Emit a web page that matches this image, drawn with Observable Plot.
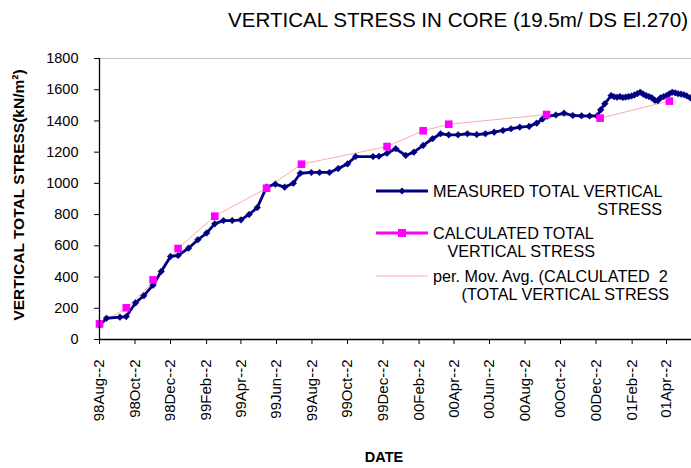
<!DOCTYPE html>
<html>
<head>
<meta charset="utf-8">
<script src="https://cdn.jsdelivr.net/npm/d3@7"></script>
<script src="https://cdn.jsdelivr.net/npm/@observablehq/plot@0.6"></script>
<style>
  body { margin: 0; background: #fff; }
  #chart svg { display: block; font-family: "Liberation Sans", Arial, sans-serif; }
</style>
</head>
<body>
<div id="chart"></div>
<script>
// ---- data ----
const measuredDates = [
  "1998-08-02","1998-08-14","1998-09-06","1998-09-17","1998-10-03","1998-10-17","1998-11-02","1998-11-16",
  "1998-12-02","1998-12-15","1999-01-02","1999-01-18","1999-02-02","1999-02-16","1999-03-03","1999-03-18",
  "1999-04-02","1999-04-16","1999-04-30","1999-05-16","1999-05-31","1999-06-16","1999-07-01","1999-07-13",
  "1999-08-01","1999-08-15","1999-09-01","1999-09-16","1999-10-02","1999-10-16","1999-11-15","1999-11-25",
  "1999-12-09","1999-12-24","2000-01-10","2000-01-24","2000-02-09","2000-02-25","2000-03-10","2000-03-24",
  "2000-04-09","2000-04-25","2000-05-11","2000-05-26","2000-06-10","2000-06-25","2000-07-09","2000-07-24",
  "2000-08-09","2000-08-22","2000-09-01","2000-09-09","2000-09-24","2000-10-08","2000-10-23","2000-11-07",
  "2000-11-21","2000-12-04","2000-12-10","2000-12-17","2000-12-28",
  "2001-01-02","2001-01-07","2001-01-12","2001-01-17","2001-01-22","2001-01-27","2001-02-01","2001-02-06",
  "2001-02-11","2001-02-16","2001-02-21","2001-02-26","2001-03-03","2001-03-08","2001-03-13","2001-03-18",
  "2001-03-23","2001-03-28","2001-04-02","2001-04-07","2001-04-12","2001-04-17","2001-04-22","2001-04-27",
  "2001-05-02","2001-05-07","2001-05-13"
];
const measuredValues = [
  90,136,143,147,235,280,348,436,532,538,585,639,682,741,762,762,
  766,801,845,976,995,976,1001,1065,1070,1070,1070,1095,1125,1172,1172,1174,
  1193,1222,1179,1200,1243,1286,1318,1311,1311,1318,1313,1318,1328,1339,1350,1360,
  1365,1386,1412,1430,1438,1450,1435,1433,1432,1432,1471,1510,1563,
  1555,1552,1556,1550,1553,1556,1560,1566,1575,1584,1572,1562,1556,1548,1532,1530,
  1548,1556,1562,1574,1584,1580,1574,1572,1568,1560,1548
];
const calculatedDates = [
  "1998-08-02","1998-09-17","1998-11-02","1998-12-15","1999-02-16","1999-05-16","1999-07-15",
  "1999-12-09","2000-02-09","2000-03-24","2000-09-08","2000-12-09","2001-04-07"
];
const calculatedValues = [100,203,382,583,790,969,1123,1236,1337,1379,1441,1418,1527];
const trendDates = calculatedDates;
const trendValues = [100,200,370,583,790,969,1123,1236,1337,1379,1441,1418,1527];

const tickDates = [
  "1998-08-02","1998-10-02","1998-12-02","1999-02-02","1999-04-02","1999-06-02","1999-08-02","1999-10-02",
  "1999-12-02","2000-02-02","2000-04-02","2000-06-02","2000-08-02","2000-10-02","2000-12-02","2001-02-02","2001-04-02"
];
const tickLabels = [
  "98Aug--2","98Oct--2","98Dec--2","99Feb--2","99Apr--2","99Jun--2","99Aug--2","99Oct--2",
  "99Dec--2","00Feb--2","00Apr--2","00Jun--2","00Aug--2","00Oct--2","00Dec--2","01Feb--2","01Apr--2"
];
const yTicks = [0,200,400,600,800,1000,1200,1400,1600,1800];

const titleText = "VERTICAL STRESS IN CORE (19.5m/ DS El.270)";
const yLabel = "VERTICAL TOTAL STRESS(kN/m²)";
const xLabel = "DATE";
const legendItems = [
  ["MEASURED TOTAL VERTICAL", "STRESS"],
  ["CALCULATED TOTAL", "VERTICAL STRESS"],
  ["per. Mov. Avg. (CALCULATED  2", "(TOTAL VERTICAL STRESS"]
];

// ---- build tables ----
const parse = d3.utcParse("%Y-%m-%d");
const measured = measuredDates.map((d, i) => ({date: parse(d), value: measuredValues[i]}));
const calculated = calculatedDates.map((d, i) => ({date: parse(d), value: calculatedValues[i]}));
const trend = trendDates.map((d, i) => ({date: parse(d), value: trendValues[i]}));
const ticks = tickDates.map(parse);
const labelOf = new Map(ticks.map((t, i) => [+t, tickLabels[i]]));

const NAVY = "#000080", MAGENTA = "#ff00ff", PINK = "#ffaaaa";

const chart = Plot.plot({
  width: 691,
  height: 468,
  marginLeft: 99,
  marginRight: 0,
  marginTop: 58,
  marginBottom: 129,
  style: {fontFamily: "Liberation Sans, Arial, sans-serif", background: "#fff"},
  x: {type: "utc", domain: [parse("1998-08-02"), parse("2001-05-15")]},
  y: {domain: [0, 1800]},
  marks: [
    Plot.ruleY([1800], {stroke: "#c0c0c0"}),
    Plot.line(trend, {x: "date", y: "value", stroke: PINK, strokeWidth: 1}),
    Plot.line(measured, {x: "date", y: "value", stroke: NAVY, strokeWidth: 2.8}),
    Plot.dot(measured, {x: "date", y: "value", symbol: "diamond2", r: 3, fill: NAVY, stroke: NAVY, strokeWidth: 0.5}),
    Plot.dot(calculated, {x: "date", y: "value", symbol: "square", r: 4.3, fill: MAGENTA}),
    Plot.axisY({ticks: yTicks, tickSize: 5, tickPadding: 16, fontSize: 14.5, label: null, color: "#000", tickFormat: d => String(d)}),
    Plot.axisX({ticks: ticks, tickSize: 5, tickPadding: 15, tickRotate: -90, fontSize: 15, label: null, color: "#000",
      tickFormat: d => labelOf.get(+d)}),
    Plot.ruleX([parse("1998-08-02")], {stroke: "#000", strokeWidth: 1.3}),
    Plot.ruleY([0], {stroke: "#000", strokeWidth: 1.3})
  ]
});

document.getElementById("chart").appendChild(chart);

// ---- title, axis titles, legend as real SVG text ----
const svg = d3.select(chart);
const font = "Liberation Sans, Arial, sans-serif";
svg.append("text").attr("x", 688).attr("y", 27).attr("text-anchor", "end")
  .attr("font-family", font).attr("font-size", 20.6).attr("fill", "#000").text(titleText);

svg.append("text").attr("transform", "translate(24,195) rotate(-90)").attr("text-anchor", "middle")
  .attr("font-family", font).attr("font-size", 15.5).attr("font-weight", "bold").attr("fill", "#000").text(yLabel);

svg.append("text").attr("x", 384).attr("y", 462).attr("text-anchor", "middle")
  .attr("font-family", font).attr("font-size", 14.5).attr("font-weight", "bold").attr("fill", "#000").text(xLabel);

const lg = svg.append("g").attr("font-family", font).attr("font-size", 16.2).attr("fill", "#000");
const rows = [
  {y: 191, stroke: NAVY, sw: 2.8, marker: "diamond", lines: legendItems[0], l2x: 662},
  {y: 233, stroke: MAGENTA, sw: 2.8, marker: "square", lines: legendItems[1], l2x: 595},
  {y: 276, stroke: PINK, sw: 1, marker: null, lines: legendItems[2], l2x: 669}
];
rows.forEach(r => {
  lg.append("line").attr("x1", 376).attr("x2", 428).attr("y1", r.y).attr("y2", r.y)
    .attr("stroke", r.stroke).attr("stroke-width", r.sw);
  if (r.marker === "diamond") {
    lg.append("path").attr("d", d3.symbol(d3.symbolDiamond2, 30)()).attr("transform", `translate(402,${r.y})`).attr("fill", NAVY);
  } else if (r.marker === "square") {
    lg.append("rect").attr("x", 398).attr("y", r.y - 4).attr("width", 8).attr("height", 8).attr("fill", MAGENTA);
  }
  lg.append("text").attr("x", 433).attr("y", r.y + 6).attr("text-anchor", "start").text(r.lines[0]);
  lg.append("text").attr("x", r.l2x).attr("y", r.y + 24).attr("text-anchor", "end").text(r.lines[1]);
});
</script>
</body>
</html>
